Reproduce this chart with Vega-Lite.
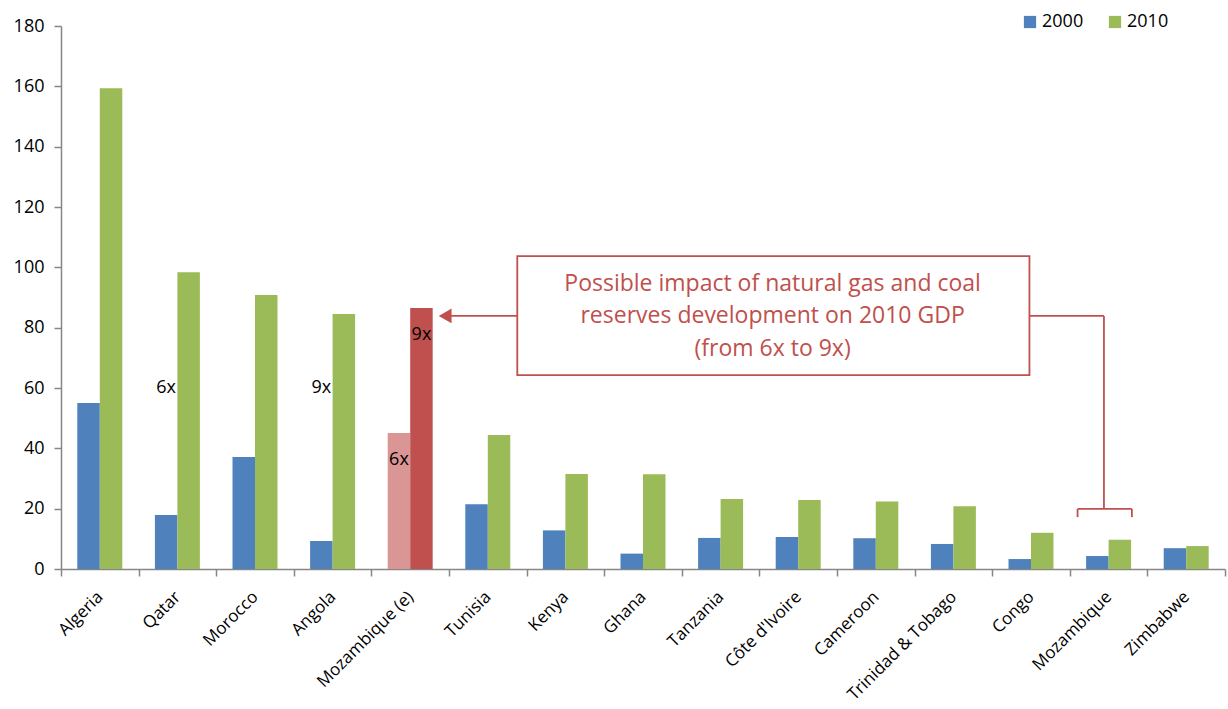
{
  "$schema": "https://vega.github.io/schema/vega-lite/v6.json",
  "width": 1164,
  "height": 543,
  "autosize": {"type": "none"},
  "padding": {"left": 61, "top": 26, "right": 3, "bottom": 140},
  "background": "white",
  "config": {
    "font": "Open Sans",
    "view": {"stroke": null},
    "axis": {"grid": false}
  },
  "datasets": {
    "gdp": [
      {"country": "Algeria", "year": "2000", "series": "2000", "value": 55.0},
      {"country": "Algeria", "year": "2010", "series": "2010", "value": 159.4},
      {"country": "Qatar", "year": "2000", "series": "2000", "value": 17.9},
      {"country": "Qatar", "year": "2010", "series": "2010", "value": 98.4},
      {"country": "Morocco", "year": "2000", "series": "2000", "value": 37.1},
      {"country": "Morocco", "year": "2010", "series": "2010", "value": 90.8},
      {"country": "Angola", "year": "2000", "series": "2000", "value": 9.3},
      {"country": "Angola", "year": "2010", "series": "2010", "value": 84.5},
      {"country": "Mozambique (e)", "year": "2000", "series": "2000 (e)", "value": 45.1},
      {"country": "Mozambique (e)", "year": "2010", "series": "2010 (e)", "value": 86.5},
      {"country": "Tunisia", "year": "2000", "series": "2000", "value": 21.5},
      {"country": "Tunisia", "year": "2010", "series": "2010", "value": 44.4},
      {"country": "Kenya", "year": "2000", "series": "2000", "value": 12.8},
      {"country": "Kenya", "year": "2010", "series": "2010", "value": 31.5},
      {"country": "Ghana", "year": "2000", "series": "2000", "value": 5.1},
      {"country": "Ghana", "year": "2010", "series": "2010", "value": 31.4},
      {"country": "Tanzania", "year": "2000", "series": "2000", "value": 10.3},
      {"country": "Tanzania", "year": "2010", "series": "2010", "value": 23.2},
      {"country": "Côte d'Ivoire", "year": "2000", "series": "2000", "value": 10.6},
      {"country": "Côte d'Ivoire", "year": "2010", "series": "2010", "value": 22.9},
      {"country": "Cameroon", "year": "2000", "series": "2000", "value": 10.2},
      {"country": "Cameroon", "year": "2010", "series": "2010", "value": 22.4},
      {"country": "Trinidad & Tobago", "year": "2000", "series": "2000", "value": 8.3},
      {"country": "Trinidad & Tobago", "year": "2010", "series": "2010", "value": 20.8},
      {"country": "Congo", "year": "2000", "series": "2000", "value": 3.3},
      {"country": "Congo", "year": "2010", "series": "2010", "value": 12.0},
      {"country": "Mozambique", "year": "2000", "series": "2000", "value": 4.3},
      {"country": "Mozambique", "year": "2010", "series": "2010", "value": 9.7},
      {"country": "Zimbabwe", "year": "2000", "series": "2000", "value": 6.9},
      {"country": "Zimbabwe", "year": "2010", "series": "2010", "value": 7.6}
    ],
    "multipliers": [
      {"country": "Qatar", "year": "2000", "y": 60.1, "label": "6x"},
      {"country": "Angola", "year": "2000", "y": 60.1, "label": "9x"},
      {"country": "Mozambique (e)", "year": "2010", "y": 77.6, "label": "9x"},
      {"country": "Mozambique (e)", "year": "2000", "y": 36.1, "label": "6x"}
    ],
    "segments": [
      {"x1": 4.97, "x2": 5.88, "y1": 83.9, "y2": 83.9},
      {"x1": 12.48, "x2": 13.44, "y1": 83.9, "y2": 83.9},
      {"x1": 13.44, "x2": 13.44, "y1": 83.9, "y2": 19.9},
      {"x1": 13.1, "x2": 13.8, "y1": 19.9, "y2": 19.9},
      {"x1": 13.1, "x2": 13.1, "y1": 19.9, "y2": 17.2},
      {"x1": 13.8, "x2": 13.8, "y1": 19.9, "y2": 17.2}
    ],
    "box": [
      {"x1": 5.88, "x2": 12.48, "y1": 64.3, "y2": 103.7}
    ],
    "arrowhead": [
      {"x": 4.95, "y": 83.9}
    ],
    "callout": [
      {"x": 9.17, "y": 94.5, "text": "Possible impact of natural gas and coal"},
      {"x": 9.17, "y": 83.9, "text": "reserves development on 2010 GDP"},
      {"x": 9.17, "y": 72.9, "text": "(from 6x to 9x)"}
    ]
  },
  "layer": [
    {
      "layer": [
        {
          "data": {"name": "gdp"},
          "mark": {"type": "bar"},
          "encoding": {
            "x": {
              "field": "country",
              "type": "nominal",
              "scale": {
                "domain": ["Algeria", "Qatar", "Morocco", "Angola", "Mozambique (e)", "Tunisia", "Kenya", "Ghana", "Tanzania", "Côte d'Ivoire", "Cameroon", "Trinidad & Tobago", "Congo", "Mozambique", "Zimbabwe"],
                "paddingInner": 0,
                "paddingOuter": 0
              },
              "axis": {
                "title": null,
                "labelAngle": -45,
                "labelAlign": "right",
                "labelBaseline": "middle",
                "labelFontSize": 17,
                "labelColor": "black",
                "labelPadding": 18,
                "tickBand": "extent",
                "tickSize": 7,
                "tickColor": "#868686",
                "tickWidth": 1.5,
                "domainColor": "#868686",
                "domainWidth": 1.5
              }
            },
            "xOffset": {
              "field": "year",
              "type": "nominal",
              "scale": {"domain": ["2000", "2010"], "paddingInner": 0, "paddingOuter": 0.725}
            },
            "y": {
              "field": "value",
              "type": "quantitative",
              "scale": {"domain": [0, 180], "nice": false},
              "axis": {
                "title": null,
                "values": [0, 20, 40, 60, 80, 100, 120, 140, 160, 180],
                "labelFontSize": 18,
                "labelColor": "black",
                "labelPadding": 10,
                "tickSize": 7,
                "tickColor": "#868686",
                "tickWidth": 1.5,
                "domainColor": "#868686",
                "domainWidth": 1.5
              }
            },
            "color": {
              "field": "series",
              "type": "nominal",
              "scale": {
                "domain": ["2000", "2010", "2000 (e)", "2010 (e)"],
                "range": ["#4F81BD", "#9BBB59", "#D99694", "#C0504D"]
              },
              "legend": {
                "title": null,
                "values": ["2000", "2010"],
                "orient": "none",
                "legendX": 960,
                "legendY": -13,
                "direction": "horizontal",
                "symbolType": "square",
                "symbolSize": 150,
                "symbolStrokeWidth": 0,
                "labelFontSize": 18,
                "labelColor": "black",
                "labelOffset": 3,
                "columnPadding": 22
              }
            }
          }
        },
        {
          "data": {"name": "multipliers"},
          "mark": {"type": "text", "fontSize": 18, "color": "black"},
          "encoding": {
            "x": {"field": "country", "type": "nominal"},
            "xOffset": {"field": "year", "type": "nominal"},
            "y": {"field": "y", "type": "quantitative", "title": null},
            "text": {"field": "label"}
          }
        }
      ]
    },
    {
      "layer": [
        {
          "data": {"name": "segments"},
          "mark": {"type": "rule", "color": "#C0504D", "strokeWidth": 1.8},
          "encoding": {
            "x": {"field": "x1", "type": "quantitative", "scale": {"domain": [0, 15], "nice": false, "zero": false}, "axis": null},
            "x2": {"field": "x2"},
            "y": {"field": "y1", "type": "quantitative", "title": null},
            "y2": {"field": "y2"}
          }
        },
        {
          "data": {"name": "box"},
          "mark": {"type": "rect", "fill": "white", "stroke": "#C0504D", "strokeWidth": 1.8},
          "encoding": {
            "x": {"field": "x1", "type": "quantitative"},
            "x2": {"field": "x2"},
            "y": {"field": "y1", "type": "quantitative", "title": null},
            "y2": {"field": "y2"}
          }
        },
        {
          "data": {"name": "arrowhead"},
          "mark": {"type": "point", "shape": "triangle-left", "filled": true, "size": 220, "color": "#C0504D", "opacity": 1},
          "encoding": {
            "x": {"field": "x", "type": "quantitative"},
            "y": {"field": "y", "type": "quantitative", "title": null}
          }
        },
        {
          "data": {"name": "callout"},
          "mark": {"type": "text", "fontSize": 23, "color": "#C0504D", "align": "center", "baseline": "middle"},
          "encoding": {
            "x": {"field": "x", "type": "quantitative"},
            "y": {"field": "y", "type": "quantitative", "title": null},
            "text": {"field": "text"}
          }
        }
      ]
    }
  ],
  "resolve": {"scale": {"x": "independent"}}
}
